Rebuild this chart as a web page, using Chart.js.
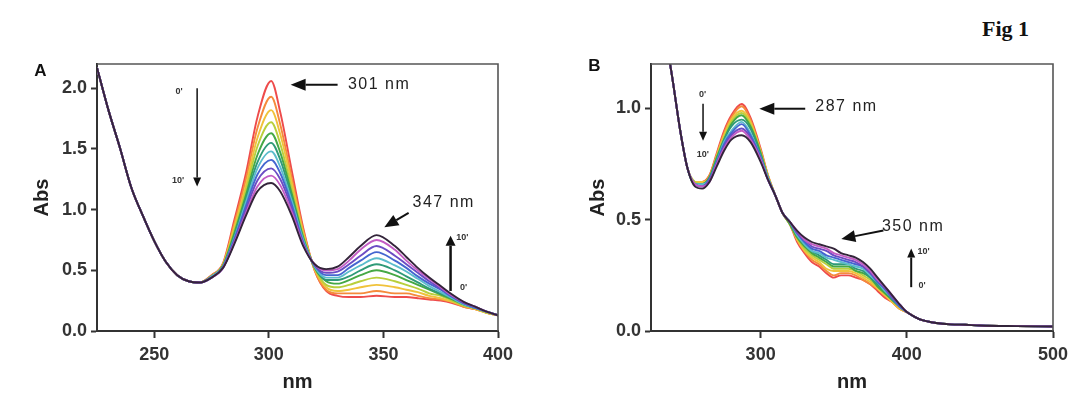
<!DOCTYPE html>
<html>
<head>
<meta charset="utf-8">
<script src="https://cdn.jsdelivr.net/npm/chart.js@4.4.1/dist/chart.umd.min.js"></script>
<style>
  body { margin: 0; background: #fff; width: 1076px; height: 403px; overflow: hidden; position: relative; }
  .panel { position: absolute; top: 0; }
  #figLabel { position: absolute; left: 982px; top: 18px; font: bold 22px 'Liberation Serif', 'Times New Roman', serif; line-height: 22px; color: #111; }
</style>
</head>
<body>
<div id="figLabel">Fig 1</div>
<div class="panel" style="left:0"><canvas id="chartA" width="540" height="403"></canvas></div>
<div class="panel" style="left:540px"><canvas id="chartB" width="536" height="403"></canvas></div>
<script>
// --- DATA ---
const timeLabels = ["0'", "1'", "2'", "3'", "4'", "5'", "6'", "7'", "8'", "9'", "10'"];
const curveColors = ['#ee4b4b', '#f58a3c', '#f0c23a', '#b9cf3c', '#45a845', '#2f9a78',
                     '#5bbccc', '#4466d0', '#6c4cc4', '#c35cc4', '#33243a'];

// panel A: 225-270 nm is the same for every curve, the rest changes with time
const wlA = [225, 230, 235, 240, 245, 250, 255, 260, 265, 270,
             275, 280, 285, 290, 295, 301, 305, 310, 315, 320, 325, 330, 335, 340, 347,
             355, 360, 365, 370, 375, 380, 385, 390, 395, 400];
const absA_start = [2.17, 1.82, 1.51, 1.18, 0.95, 0.74, 0.57, 0.46, 0.41, 0.40];
const absA = [
  [.46, .56, .92, 1.30, 1.76, 2.06, 1.80, 1.32, .85, .50, .33, .29, .28, .28, .29, .28, .28, .27, .26, .25, .23, .20, .18, .15, .13],
  [.46, .55, .89, 1.25, 1.67, 1.93, 1.70, 1.26, .83, .50, .34, .31, .31, .31, .33, .31, .31, .29, .27, .26, .24, .20, .18, .15, .13],
  [.45, .55, .86, 1.20, 1.59, 1.82, 1.62, 1.22, .81, .51, .36, .33, .34, .36, .38, .36, .34, .32, .29, .27, .24, .21, .18, .15, .13],
  [.45, .54, .83, 1.16, 1.52, 1.72, 1.54, 1.17, .79, .52, .38, .36, .38, .41, .44, .41, .38, .35, .31, .29, .25, .21, .19, .15, .13],
  [.45, .54, .81, 1.12, 1.45, 1.63, 1.47, 1.13, .77, .52, .41, .39, .42, .46, .50, .46, .42, .38, .34, .30, .26, .22, .19, .16, .13],
  [.45, .53, .79, 1.09, 1.39, 1.55, 1.41, 1.10, .76, .53, .42, .42, .45, .50, .55, .50, .45, .40, .35, .31, .27, .22, .19, .16, .13],
  [.45, .53, .77, 1.06, 1.34, 1.48, 1.35, 1.07, .75, .53, .44, .44, .49, .54, .60, .54, .49, .43, .37, .32, .27, .22, .19, .16, .13],
  [.44, .53, .76, 1.03, 1.29, 1.41, 1.30, 1.04, .73, .54, .46, .46, .52, .58, .65, .58, .52, .45, .39, .34, .28, .23, .19, .16, .13],
  [.44, .52, .74, 1.00, 1.24, 1.34, 1.25, 1.01, .72, .54, .48, .49, .55, .62, .70, .62, .55, .48, .41, .35, .29, .23, .20, .16, .13],
  [.44, .52, .73, .97, 1.19, 1.28, 1.20, .98, .71, .55, .50, .51, .58, .67, .75, .67, .58, .50, .43, .36, .29, .24, .20, .16, .13],
  [.44, .52, .72, .95, 1.15, 1.22, 1.15, .95, .70, .55, .51, .53, .61, .70, .79, .70, .61, .52, .44, .37, .30, .24, .20, .16, .13]
];
const xTicksA = [250, 300, 350, 400];
const yTicksA = [0, 0.5, 1.0, 1.5, 2.0];

// panel B: shared start (225-250) and tail (400-500)
const wlB = [225, 230, 235, 240, 245, 250,
             255, 260, 265, 270, 275, 280, 287, 293, 300, 305, 310, 315, 320, 325, 330, 335, 340, 345,
             350, 355, 360, 365, 370, 375, 380, 385, 390, 395,
             400, 405, 410, 420, 430, 440, 450, 475, 500];
const absB_start = [1.90, 1.60, 1.33, 1.12, 0.90, 0.73];
const absB_end = [.085, .065, .05, .036, .03, .028, .025, .022, .02];
const absB = [
  [.67, .67, .70, .80, .90, .97, 1.02, .96, .82, .70, .61, .53, .48, .40, .35, .31, .29, .26, .24, .25, .25, .24, .23, .21, .18, .15, .13, .10],
  [.67, .67, .70, .79, .89, .96, 1.01, .95, .81, .70, .61, .53, .48, .41, .36, .32, .30, .27, .25, .26, .26, .25, .23, .21, .19, .16, .13, .10],
  [.67, .67, .69, .79, .88, .95, .99, .94, .81, .70, .61, .53, .48, .41, .36, .33, .31, .28, .27, .27, .27, .26, .24, .22, .19, .16, .13, .10],
  [.67, .66, .69, .78, .87, .94, .98, .93, .80, .69, .61, .53, .48, .42, .37, .34, .32, .30, .28, .28, .28, .27, .25, .23, .20, .17, .14, .11],
  [.66, .66, .69, .78, .86, .93, .97, .92, .80, .69, .61, .53, .48, .42, .38, .35, .33, .31, .29, .29, .29, .27, .26, .24, .20, .17, .14, .11],
  [.66, .66, .69, .77, .86, .92, .95, .91, .79, .69, .61, .53, .49, .43, .39, .36, .34, .32, .30, .30, .30, .28, .27, .24, .21, .18, .14, .11],
  [.66, .66, .68, .76, .85, .90, .94, .89, .78, .69, .61, .53, .49, .43, .39, .36, .35, .33, .32, .31, .30, .29, .28, .25, .22, .18, .15, .11],
  [.66, .65, .68, .76, .84, .89, .93, .88, .78, .68, .61, .53, .49, .44, .40, .37, .36, .34, .33, .32, .31, .30, .29, .26, .22, .19, .15, .11],
  [.66, .65, .68, .75, .83, .88, .91, .87, .77, .68, .61, .53, .49, .44, .41, .38, .37, .36, .34, .33, .32, .31, .29, .26, .23, .19, .15, .12],
  [.66, .65, .67, .75, .82, .87, .90, .86, .77, .68, .61, .53, .49, .45, .41, .39, .38, .37, .35, .34, .33, .32, .30, .27, .23, .20, .16, .12],
  [.65, .64, .67, .74, .81, .86, .88, .85, .76, .68, .61, .53, .49, .45, .42, .40, .39, .38, .37, .35, .34, .33, .31, .28, .24, .20, .16, .12]
];
const xTicksB = [300, 400, 500];
const yTicksB = [0, 0.5, 1.0];

// --- ANNOTATIONS (data units) ---
const notesA = {
  letter: 'A', letterAt: [40.5, 71],
  arrows: [
    { from: [330, 2.03], to: [309.5, 2.03], head: 15, half: 6, lw: 2 },
    { from: [268.7, 2.00], to: [268.7, 1.19], head: 9, half: 4, lw: 1.5 },
    { from: [361, 0.974], to: [350.4, 0.854], head: 14, half: 6, lw: 2 },
    { from: [379.3, 0.33], to: [379.3, 0.784], head: 10, half: 5, lw: 2.5 }
  ],
  labels: [
    { text: '301 nm', at: [334.5, 2.03], big: true },
    { text: '347 nm', at: [362.7, 1.056], big: true },
    { text: "0'", at: [260.8, 1.976] },
    { text: "10'", at: [260.4, 1.238] },
    { text: "10'", at: [384.4, 0.767] },
    { text: "0'", at: [385, 0.355] }
  ]
};
const notesB = {
  letter: 'B', letterAt: [54.5, 66.5],
  arrows: [
    { from: [330.5, 0.999], to: [299.1, 0.999], head: 15, half: 6, lw: 2 },
    { from: [260.6, 1.021], to: [260.6, 0.855], head: 9, half: 4, lw: 1.5 },
    { from: [384, 0.452], to: [355.2, 0.414], head: 14, half: 6, lw: 2 },
    { from: [403, 0.197], to: [403, 0.371], head: 9, half: 4, lw: 2 }
  ],
  labels: [
    { text: '287 nm', at: [337.4, 1.009], big: true },
    { text: '350 nm', at: [383, 0.467], big: true },
    { text: "0'", at: [260.3, 1.062] },
    { text: "10'", at: [260.4, 0.792] },
    { text: "10'", at: [411.5, 0.358] },
    { text: "0'", at: [410.5, 0.205] }
  ]
};

Chart.defaults.font.family = "'Liberation Sans', Arial, sans-serif";
Chart.defaults.color = '#333';

function buildDatasets(wl, rows, start, end) {
  return rows.map((row, k) => {
    const ys = start.concat(row, end || []);
    return {
      label: timeLabels[k],
      data: wl.map((w, i) => ({ x: w, y: ys[i] })),
      borderColor: curveColors[k],
      borderWidth: 1.9,
      pointRadius: 0,
      cubicInterpolationMode: 'monotone',
      order: rows.length - 1 - k   // last curve drawn on top
    };
  });
}

function notesPlugin(notes) {
  return {
    id: 'notes',
    afterDraw(chart) {
      const { ctx, chartArea: a } = chart;
      const sx = chart.scales.x, sy = chart.scales.y;
      const px = p => [sx.getPixelForValue(p[0]), sy.getPixelForValue(p[1])];
      ctx.save();
      // frame top/right
      ctx.strokeStyle = '#555';
      ctx.lineWidth = 1.6;
      ctx.beginPath();
      ctx.moveTo(a.left, a.top);
      ctx.lineTo(a.right, a.top);
      ctx.lineTo(a.right, a.bottom);
      ctx.stroke();

      // arrows
      ctx.fillStyle = '#111';
      ctx.strokeStyle = '#111';
      notes.arrows.forEach(ar => {
        const [x1, y1] = px(ar.from);
        const [x2, y2] = px(ar.to);
        const ang = Math.atan2(y2 - y1, x2 - x1);
        const bx = x2 - Math.cos(ang) * ar.head, by = y2 - Math.sin(ang) * ar.head;
        ctx.lineWidth = ar.lw;
        ctx.beginPath();
        ctx.moveTo(x1, y1);
        ctx.lineTo(bx, by);
        ctx.stroke();
        ctx.beginPath();
        ctx.moveTo(x2, y2);
        ctx.lineTo(bx + Math.sin(ang) * ar.half, by - Math.cos(ang) * ar.half);
        ctx.lineTo(bx - Math.sin(ang) * ar.half, by + Math.cos(ang) * ar.half);
        ctx.closePath();
        ctx.fill();
      });

      // labels
      ctx.textBaseline = 'middle';
      notes.labels.forEach(l => {
        const [x, y] = px(l.at);
        if (l.big) {
          ctx.font = "16px 'Liberation Sans', Arial, sans-serif";
          ctx.letterSpacing = '1.5px';
          ctx.fillStyle = '#222';
          ctx.textAlign = 'left';
        } else {
          ctx.font = "bold 9px 'Liberation Sans', Arial, sans-serif";
          ctx.letterSpacing = '0px';
          ctx.fillStyle = '#333';
          ctx.textAlign = 'center';
        }
        ctx.fillText(l.text, x, y);
      });

      // panel letter
      ctx.letterSpacing = '0px';
      ctx.font = "bold 17px 'Liberation Sans', Arial, sans-serif";
      ctx.fillStyle = '#111';
      ctx.textAlign = 'center';
      ctx.fillText(notes.letter, notes.letterAt[0], notes.letterAt[1]);
      ctx.restore();
    }
  };
}

function makeChart(id, cfg) {
  const axisFont = { size: 18, weight: 'bold' };
  const titleFont = { size: 20, weight: 'bold' };
  new Chart(document.getElementById(id), {
    type: 'line',
    data: { datasets: cfg.datasets },
    options: {
      responsive: false,
      animation: false,
      events: [],
      layout: { padding: cfg.padding },
      plugins: { legend: { display: false }, tooltip: { enabled: false } },
      scales: {
        x: {
          type: 'linear',
          min: cfg.xMin, max: cfg.xMax,
          afterBuildTicks: s => { s.ticks = cfg.xTicks.map(v => ({ value: v })); },
          afterFit: s => { s.height = cfg.xHeight; },
          ticks: { font: axisFont, color: '#333', padding: 6, maxRotation: 0, callback: v => String(v) },
          grid: { drawOnChartArea: false, drawTicks: true, tickLength: 7, tickWidth: 2, tickColor: '#333' },
          border: { color: '#333', width: 2 },
          title: { display: true, text: 'nm', font: titleFont, color: '#222' }
        },
        y: {
          type: 'linear',
          min: 0, max: cfg.yMax,
          afterBuildTicks: s => { s.ticks = cfg.yTicks.map(v => ({ value: v })); },
          afterFit: s => { s.width = cfg.yWidth; },
          ticks: { font: axisFont, color: '#333', padding: 4, callback: v => v.toFixed(1) },
          grid: { drawOnChartArea: false, drawTicks: true, tickLength: 6, tickWidth: 2, tickColor: '#333' },
          border: { color: '#333', width: 2 },
          title: { display: true, text: 'Abs', font: titleFont, color: '#222' }
        }
      }
    },
    plugins: [notesPlugin(cfg.notes)]
  });
}

makeChart('chartA', {
  datasets: buildDatasets(wlA, absA, absA_start),
  xMin: 225, xMax: 400, yMax: 2.2,
  xTicks: xTicksA, yTicks: yTicksA,
  padding: { left: 26, top: 64, right: 42, bottom: 4.5 },
  yWidth: 71, xHeight: 67.5,
  notes: notesA
});

makeChart('chartB', {
  datasets: buildDatasets(wlB, absB, absB_start, absB_end),
  xMin: 225, xMax: 500, yMax: 1.2,
  xTicks: xTicksB, yTicks: yTicksB,
  padding: { left: 42, top: 64, right: 23, bottom: 4.5 },
  yWidth: 69, xHeight: 67.5,
  notes: notesB
});
</script>
</body>
</html>
